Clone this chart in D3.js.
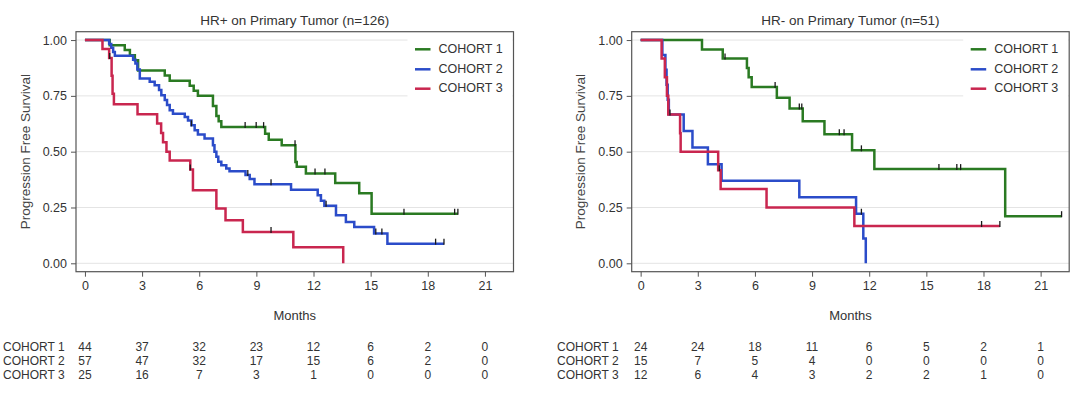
<!DOCTYPE html>
<html><head><meta charset="utf-8">
<script src="https://cdn.jsdelivr.net/npm/d3@7"></script>
<style>
html,body{margin:0;padding:0;background:#fff;}
svg{display:block;font-family:"Liberation Sans",Arial,sans-serif;}
</style></head>
<body><svg id="c" width="1080" height="393"></svg>
<script>
// ---------- data ----------
const monthTicks = [0,3,6,9,12,15,18,21];
const survTicks = [0,0.25,0.5,0.75,1];
const cohortNames = ["COHORT 1","COHORT 2","COHORT 3"];
const panelTitles = ["HR+ on Primary Tumor (n=126)","HR- on Primary Tumor (n=51)"];

// HR+ panel: [month, survival] step points
const hrPosCohort1 = [[0,1],[1.3,0.977],[2.09,0.955],[2.36,0.932],[2.62,0.909],[2.79,0.864],[4.19,0.841],[4.45,0.818],[5.5,0.795],[5.71,0.773],[5.93,0.75],[6.72,0.705],[6.9,0.66],[7.02,0.636],[7.16,0.61],[9.46,0.58],[9.65,0.553],[10.33,0.529],[11.05,0.454],[11.12,0.432],[11.6,0.402],[13.14,0.36],[14.4,0.314],[15.05,0.222]];
const hrPosCohort1End = 19.58;
const hrPosCohort1Censor = [8.41,8.99,9.38,11.03,12.08,12.6,16.75,19.41,19.58];

const hrPosCohort2 = [[0,1],[1.27,0.982],[1.38,0.965],[1.48,0.947],[1.57,0.93],[2.53,0.912],[2.65,0.895],[2.75,0.868],[2.88,0.828],[3.4,0.813],[3.66,0.798],[3.89,0.776],[4.01,0.753],[4.19,0.731],[4.31,0.709],[4.45,0.686],[4.62,0.67],[5.24,0.655],[5.41,0.64],[5.59,0.618],[5.76,0.596],[5.93,0.577],[6.28,0.559],[6.72,0.529],[6.8,0.5],[6.9,0.477],[7.0,0.455],[7.16,0.439],[7.42,0.425],[7.59,0.412],[8.43,0.395],[8.65,0.378],[8.9,0.354],[10.82,0.33],[12.22,0.305],[12.39,0.28],[12.57,0.258],[13.18,0.215],[13.7,0.185],[14.14,0.163],[15.18,0.133],[15.88,0.088]];
const hrPosCohort2End = 18.85;
const hrPosCohort2Censor = [5.59,8.55,9.77,12.66,15.27,15.59,18.41,18.85];

const hrPosCohort3 = [[0,1],[0.92,0.96],[1.27,0.92],[1.4,0.84],[1.45,0.76],[1.52,0.712],[2.76,0.668],[3.79,0.626],[4.0,0.584],[4.1,0.542],[4.28,0.5],[4.45,0.46],[5.53,0.42],[5.67,0.327],[6.9,0.245],[7.38,0.193],[8.29,0.14],[10.94,0.072],[13.56,0]];
const hrPosCohort3End = 13.56;
const hrPosCohort3Censor = [1.3,5.53,9.77];

// HR- panel
const hrNegCohort1 = [[0,1],[3.22,0.958],[4.31,0.917],[5.58,0.875],[5.67,0.833],[5.83,0.79],[7.15,0.742],[7.82,0.693],[8.51,0.636],[9.65,0.578],[11.1,0.506],[12.27,0.422],[19.14,0.211]];
const hrNegCohort1End = 22.1;
const hrNegCohort1Censor = [4.43,7.06,8.33,8.46,10.43,10.68,11.59,15.66,16.6,16.8,22.1];

const hrNegCohort2 = [[0,1],[1.14,0.933],[1.3,0.867],[1.36,0.8],[1.42,0.733],[1.48,0.667],[2.26,0.593],[2.72,0.519],[3.53,0.444],[4.25,0.37],[8.33,0.296],[11.31,0.222],[11.69,0.111],[11.82,0]];
const hrNegCohort2End = 11.82;
const hrNegCohort2Censor = [11.59];

const hrNegCohort3 = [[0,1],[1.1,0.917],[1.27,0.833],[1.38,0.75],[1.45,0.667],[2.07,0.583],[2.1,0.5],[4.07,0.417],[4.2,0.333],[6.61,0.25],[11.22,0.167]];
const hrNegCohort3End = 18.86;
const hrNegCohort3Censor = [1.54,4.13,17.9,18.86];

// numbers at risk
const hrPosRisk1 = [44,37,32,23,12,6,2,0];
const hrPosRisk2 = [57,47,32,17,15,6,2,0];
const hrPosRisk3 = [25,16,7,3,1,0,0,0];
const hrNegRisk1 = [24,24,18,11,6,5,2,1];
const hrNegRisk2 = [15,7,5,4,0,0,0,0];
const hrNegRisk3 = [12,6,4,3,2,2,1,0];

// ---------- drawing ----------
const colors = ["#2a7a22","#2b4cc9","#c9264f"];
const svg = d3.select("#c");

const panels = [
  {left:76, title:panelTitles[0],
   series:[[hrPosCohort1,hrPosCohort1End,hrPosCohort1Censor],[hrPosCohort2,hrPosCohort2End,hrPosCohort2Censor],[hrPosCohort3,hrPosCohort3End,hrPosCohort3Censor]],
   risk:[hrPosRisk1,hrPosRisk2,hrPosRisk3], riskLabelX:3},
  {left:631.7, title:panelTitles[1],
   series:[[hrNegCohort1,hrNegCohort1End,hrNegCohort1Censor],[hrNegCohort2,hrNegCohort2End,hrNegCohort2Censor],[hrNegCohort3,hrNegCohort3End,hrNegCohort3Censor]],
   risk:[hrNegRisk1,hrNegRisk2,hrNegRisk3], riskLabelX:557}
];

const W = 437.5, plotTop = 31.7, plotBottom = 271.7;

panels.forEach(p => {
  const L = p.left, R = L + W;
  const x = d3.scaleLinear().domain([-0.47, 22.5]).range([L, R]);
  const y = d3.scaleLinear().domain([-0.0376, 1.0374]).range([plotBottom, plotTop]);
  const g = svg.append("g");

  // gridlines
  g.append("g").selectAll("line").data(survTicks).join("line")
    .attr("x1", L).attr("x2", R)
    .attr("y1", d => y(d)).attr("y2", d => y(d))
    .attr("stroke", "#e4e4e4").attr("stroke-width", 1);

  // legend background (covers gridlines)
  g.append("rect").attr("x", R - 106).attr("y", plotTop + 1).attr("width", 105).attr("height", 65)
    .attr("fill", "#fff");

  // curves
  const line = d3.line().x(d => x(d[0])).y(d => y(d[1])).curve(d3.curveStepAfter);
  p.series.forEach((s, i) => {
    const pts = s[0].concat([[s[1], s[0][s[0].length-1][1]]]);
    g.append("path").datum(pts).attr("d", line)
      .attr("fill", "none").attr("stroke", colors[i]).attr("stroke-width", 2.5)
      .attr("stroke-linejoin", "miter");
  });
  // censor marks
  p.series.forEach((s, i) => {
    const pts = s[0];
    const survAt = t => { let v = 1; for (const d of pts) { if (d[0] <= t) v = d[1]; } return v; };
    g.append("g").selectAll("line").data(s[2]).join("line")
      .attr("x1", d => x(d)).attr("x2", d => x(d))
      .attr("y1", d => y(survAt(d)) - 5).attr("y2", d => y(survAt(d)) + 1)
      .attr("stroke", "#1a1a1a").attr("stroke-width", 1.3);
  });

  // frame
  g.append("rect").attr("x", L).attr("y", plotTop).attr("width", W).attr("height", plotBottom - plotTop)
    .attr("fill", "none").attr("stroke", "#555").attr("stroke-width", 1.2);

  // axes
  const xAxis = d3.axisBottom(x).tickValues(monthTicks).tickSize(5).tickPadding(4).tickFormat(d3.format("d"));
  const xg = g.append("g").attr("transform", `translate(0,${plotBottom})`).call(xAxis);
  xg.select(".domain").remove();
  xg.selectAll("line").attr("stroke", "#555");
  xg.selectAll("text").attr("font-size", 12.5).attr("fill", "#333").attr("font-family", "Liberation Sans, Arial, sans-serif");

  const yAxis = d3.axisLeft(y).tickValues(survTicks).tickSize(5).tickPadding(4).tickFormat(d3.format(".2f"));
  const yg = g.append("g").attr("transform", `translate(${L},0)`).call(yAxis);
  yg.select(".domain").remove();
  yg.selectAll("line").attr("stroke", "#555");
  yg.selectAll("text").attr("font-size", 12.5).attr("fill", "#333").attr("font-family", "Liberation Sans, Arial, sans-serif");

  // titles
  g.append("text").attr("x", (L + R) / 2).attr("y", 25).attr("text-anchor", "middle")
    .attr("font-size", 13.5).attr("fill", "#333").text(p.title);
  g.append("text").attr("x", (L + R) / 2).attr("y", 320).attr("text-anchor", "middle")
    .attr("font-size", 13).attr("fill", "#333").text("Months");
  g.append("text").attr("transform", `translate(${L - 50},${(plotTop + plotBottom) / 2}) rotate(-90)`)
    .attr("text-anchor", "middle").attr("dominant-baseline", "middle")
    .attr("font-size", 13.5).attr("fill", "#444").text("Progression Free Survival");

  // legend
  const legY = [49.3, 69.3, 88.7];
  cohortNames.forEach((n, i) => {
    g.append("line").attr("x1", R - 98.5).attr("x2", R - 83).attr("y1", legY[i]).attr("y2", legY[i])
      .attr("stroke", colors[i]).attr("stroke-width", 2.5);
    g.append("text").attr("x", R - 75).attr("y", legY[i]).attr("dominant-baseline", "middle")
      .attr("font-size", 12.5).attr("fill", "#333").text(n);
  });

  // risk table
  const rowY = [348.3, 362.3, 376];
  p.risk.forEach((row, i) => {
    g.append("text").attr("x", p.riskLabelX).attr("y", rowY[i]).attr("dominant-baseline", "middle")
      .attr("font-size", 12).attr("fill", "#333").text(cohortNames[i]);
    g.append("g").selectAll("text").data(row).join("text")
      .attr("x", (d, j) => x(monthTicks[j])).attr("y", rowY[i])
      .attr("text-anchor", "middle").attr("dominant-baseline", "middle")
      .attr("font-size", 12).attr("fill", "#333").text(d => d);
  });
});
</script>
</body></html>
